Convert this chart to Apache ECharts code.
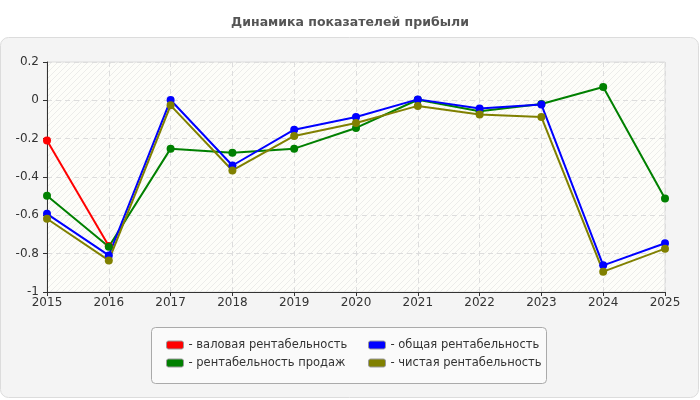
<!DOCTYPE html>
<html>
<head>
<meta charset="utf-8">
<title>Динамика показателей прибыли</title>
<script src="https://cdn.jsdelivr.net/npm/echarts@6/dist/echarts.min.js"></script>
<style>
html, body { margin: 0; padding: 0; background: #fff; }
#main { width: 700px; height: 400px; }
</style>
</head>
<body>
<div id="main"></div>
<script>
// данные графика
var years = ['2015', '2016', '2017', '2018', '2019', '2020', '2021', '2022', '2023', '2024', '2025'];
var grossMargin = [-0.21, -0.76, null, null, null, null, null, null, null, null, null];
var salesMargin = [-0.498, -0.764, -0.252, -0.273, -0.252, -0.144, 0.003, -0.057, -0.019, 0.07, -0.512];
var totalMargin = [-0.592, -0.809, 0.002, -0.34, -0.153, -0.087, 0.005, -0.043, -0.022, -0.861, -0.746];
var netMargin = [-0.618, -0.835, -0.026, -0.366, -0.186, -0.118, -0.029, -0.074, -0.087, -0.894, -0.774];
var seriesNames = ['- валовая рентабельность', '- рентабельность продаж', '- общая рентабельность', '- чистая рентабельность'];
var seriesColors = ['#ff0000', '#008000', '#0000ff', '#808000'];

// штриховка фона области построения
var hatch = document.createElement('canvas');
hatch.width = 6;
hatch.height = 6;
var hctx = hatch.getContext('2d');
hctx.fillStyle = '#fdfdf9';
hctx.fillRect(0, 0, 6, 6);
hctx.strokeStyle = '#ececea';
hctx.lineWidth = 1;
hctx.beginPath();
hctx.moveTo(-1, 7); hctx.lineTo(7, -1);
hctx.moveTo(-1, 1); hctx.lineTo(1, -1);
hctx.moveTo(5, 7); hctx.lineTo(7, 5);
hctx.stroke();

function makeSeries(i, data) {
	return {
		name : seriesNames[i],
		type : 'line',
		data : data,
		symbol : 'circle',
		symbolSize : 8,
		connectNulls : false,
		lineStyle : { width : 2, color : seriesColors[i] },
		itemStyle : { color : seriesColors[i] }
	};
}

var legendText = { fontFamily : 'DejaVu Sans', fontSize : 11.5, color : '#333', lineHeight : 14 };

var myChart = echarts.init(document.getElementById('main'), null, { renderer : 'canvas' });

myChart.setOption({
	animation : false,
	textStyle : { fontFamily : 'DejaVu Sans' },
	title : {
		text : 'Динамика показателей прибыли',
		left : 'center',
		top : 11,
		textStyle : { fontFamily : 'DejaVu Sans', fontSize : 12.5, fontWeight : 'bold', color : '#555' }
	},
	graphic : [ {
		type : 'rect',
		z : -10,
		shape : { x : 0.5, y : 37.5, width : 698, height : 360, r : 8 },
		style : { fill : '#f4f4f4', stroke : '#dcdcdc', lineWidth : 1 }
	}, {
		type : 'rect',
		z : -5,
		shape : { x : 151.5, y : 327.5, width : 395, height : 56, r : 4 },
		style : { fill : '#fafafa', stroke : '#aaaaaa', lineWidth : 1 }
	} ],
	legend : [ {
		orient : 'vertical',
		left : 161,
		top : 333,
		itemWidth : 17,
		itemHeight : 8,
		itemGap : 4,
		icon : 'roundRect',
		itemStyle : { borderColor : '#999', borderWidth : 1 },
		textStyle : legendText,
		data : [ seriesNames[0], seriesNames[1] ]
	}, {
		orient : 'vertical',
		left : 363,
		top : 333,
		itemWidth : 17,
		itemHeight : 8,
		itemGap : 4,
		icon : 'roundRect',
		itemStyle : { borderColor : '#999', borderWidth : 1 },
		textStyle : legendText,
		data : [ seriesNames[2], seriesNames[3] ]
	} ],
	grid : {
		left : 47,
		right : 35,
		top : 62,
		bottom : 108,
		show : true,
		borderColor : '#dddddd',
		borderWidth : 1,
		backgroundColor : { image : hatch, repeat : 'repeat' }
	},
	xAxis : {
		type : 'category',
		data : years,
		boundaryGap : false,
		axisLine : { onZero : false, lineStyle : { color : '#333', width : 1 } },
		axisTick : { show : true, length : 4, alignWithLabel : true, lineStyle : { color : '#333' } },
		axisLabel : { color : '#333', fontSize : 12, margin : 5 },
		splitLine : { show : true, lineStyle : { color : '#dddddd', type : [ 5, 4 ] } }
	},
	yAxis : {
		type : 'value',
		min : -1,
		max : 0.2,
		interval : 0.2,
		axisLine : { show : true, onZero : false, lineStyle : { color : '#333', width : 1 } },
		axisTick : { show : true, length : 4, lineStyle : { color : '#333' } },
		axisLabel : { color : '#333', fontSize : 12, margin : 8 },
		splitLine : { show : true, lineStyle : { color : '#dddddd', type : [ 5, 4 ] } }
	},
	series : [
		makeSeries(0, grossMargin),
		makeSeries(1, salesMargin),
		makeSeries(2, totalMargin),
		makeSeries(3, netMargin)
	]
});
</script>
</body>
</html>
